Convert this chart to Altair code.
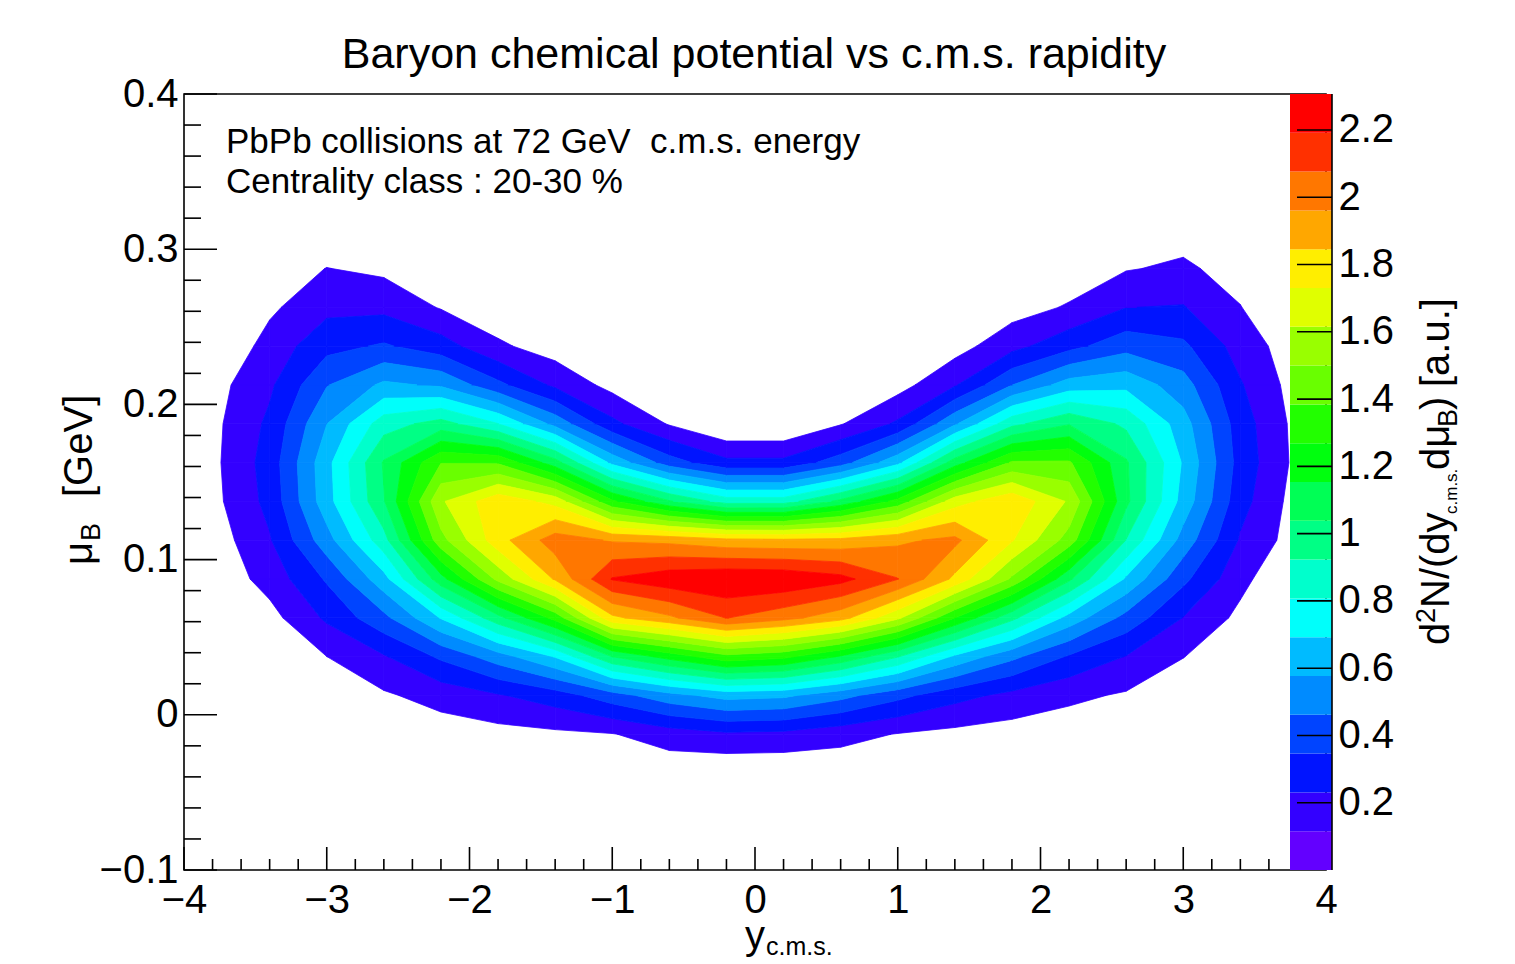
import altair as alt
import pandas as pd

alt.data_transformers.disable_max_rows()

W, H = 1142, 776
FONT = "Liberation Sans"
Z_MAX = 2.307

# bin centres of the 2D histogram
x_centers = [-3.8, -3.4, -3.0, -2.6, -2.2, -1.8, -1.4, -1.0, -0.6, -0.2,
             0.2, 0.6, 1.0, 1.4, 1.8, 2.2, 2.6, 3.0, 3.4, 3.8]
y_centers = [-0.0875, -0.0625, -0.0375, -0.0125, 0.0125, 0.0375, 0.0625, 0.0875,
             0.1125, 0.1375, 0.1625, 0.1875, 0.2125, 0.2375, 0.2625, 0.2875,
             0.3125, 0.3375, 0.3625, 0.3875]

# bin contents, one row per mu_B bin (values along y_cms)
z00 = [0] * 20
z01 = [0] * 20
z02 = [0, 0, 0, 0, 0.017, 0.02, 0.022, 0.02, 0.04, 0.02, 0.02, 0.035, 0.024, 0.02, 0.016, 0.014, 0, 0, 0, 0]
z03 = [0, 0, 0.01, 0.04, 0.057, 0.076, 0.092, 0.11, 0.17, 0.21, 0.2, 0.156, 0.11, 0.083, 0.064, 0.05, 0.04, 0.02, 0, 0]
z04 = [0, 0.02, 0.04, 0.10, 0.159, 0.22, 0.29, 0.41, 0.536, 0.62, 0.6, 0.50, 0.38, 0.27, 0.198, 0.14, 0.102, 0.052, 0.02, 0]
z05 = [0, 0.04, 0.115, 0.22, 0.366, 0.524, 0.70, 1.04, 1.2, 1.35, 1.3, 1.14, 0.93, 0.67, 0.49, 0.333, 0.226, 0.118, 0.044, 0]
z06 = [0.01, 0.075, 0.25, 0.43, 0.70, 1.0, 1.31, 1.82, 1.94, 2.08, 2.0, 1.89, 1.64, 1.27, 0.956, 0.65, 0.423, 0.227, 0.087, 0]
z07 = [0.03, 0.16, 0.36, 0.65, 1.11, 1.53, 1.86, 2.2, 2.27, 2.30, 2.29, 2.23, 2.08, 1.82, 1.48, 1.06, 0.675, 0.374, 0.148, 0]
z08 = [0.05, 0.22, 0.53, 0.88, 1.46, 1.8, 2.02, 1.95, 1.93, 1.88, 1.87, 1.88, 1.94, 1.99, 1.74, 1.45, 0.919, 0.531, 0.217, 0.058]
z09 = [0.08, 0.265, 0.645, 1.03, 1.6, 1.81, 1.69, 1.29, 1.05, 0.87, 0.87, 1.07, 1.31, 1.68, 1.82, 1.6, 1.065, 0.647, 0.274, 0.063]
z10 = [0.087, 0.28, 0.655, 1.05, 1.38, 1.37, 1.09, 0.66, 0.40, 0.26, 0.26, 0.41, 0.66, 1.10, 1.40, 1.40, 1.053, 0.679, 0.3, 0.083]
z11 = [0.084, 0.255, 0.575, 0.87, 0.97, 0.81, 0.54, 0.26, 0.105, 0.0, 0.0, 0.107, 0.25, 0.56, 0.89, 1.03, 0.898, 0.625, 0.286, 0.078]
z12 = [0.07, 0.21, 0.455, 0.6, 0.56, 0.376, 0.207, 0.078, 0.02, 0, 0, 0.02, 0.07, 0.22, 0.46, 0.63, 0.66, 0.511, 0.241, 0.062]
z13 = [0, 0.16, 0.31, 0.36, 0.283, 0.135, 0.06, 0.015, 0, 0, 0, 0, 0.01, 0.068, 0.193, 0.31, 0.419, 0.37, 0.18, 0.048]
z14 = [0, 0.094, 0.2, 0.2, 0.107, 0.038, 0.01, 0, 0, 0, 0, 0, 0, 0.01, 0.065, 0.127, 0.229, 0.238, 0.119, 0]
z15 = [0, 0.05, 0.118, 0.09, 0.033, 0, 0, 0, 0, 0, 0, 0, 0, 0, 0.01, 0.043, 0.108, 0.135, 0.07, 0]
z16 = [0, 0.02, 0.03, 0.02, 0, 0, 0, 0, 0, 0, 0, 0, 0, 0, 0, 0, 0.044, 0.068, 0.036, 0]
z17 = [0, 0, 0, 0, 0, 0, 0, 0, 0, 0, 0, 0, 0, 0, 0, 0, 0, 0.02, 0, 0]
z18 = [0] * 20
z19 = [0] * 20
Z = [z00, z01, z02, z03, z04, z05, z06, z07, z08, z09,
     z10, z11, z12, z13, z14, z15, z16, z17, z18, z19]

# ROOT "pretty" palette colours of the 20 contour bands
band_colors = ["#6300ff", "#3300ff", "#0014ff", "#0044ff", "#008bff", "#00bbff",
               "#00fffb", "#00ffcc", "#00ff85", "#00ff55", "#00ff0e", "#22ff00",
               "#69ff00", "#99ff00", "#e0ff00", "#ffee00", "#ffa700", "#ff7700",
               "#ff3000", "#ff0000"]
N_LEV = 20
levels = [k * Z_MAX / N_LEV for k in range(N_LEV + 1)]

# axis decorations
x_major = [-4, -3, -2, -1, 0, 1, 2, 3, 4]
x_minor = [-3.8, -3.6, -3.4, -3.2, -2.8, -2.6, -2.4, -2.2, -1.8, -1.6, -1.4, -1.2,
           -0.8, -0.6, -0.4, -0.2, 0.2, 0.4, 0.6, 0.8, 1.2, 1.4, 1.6, 1.8,
           2.2, 2.4, 2.6, 2.8, 3.2, 3.4, 3.6, 3.8]
y_major = [-0.1, 0.0, 0.1, 0.2, 0.3, 0.4]
y_minor = [-0.08, -0.06, -0.04, -0.02, 0.02, 0.04, 0.06, 0.08, 0.12, 0.14, 0.16, 0.18,
           0.22, 0.24, 0.26, 0.28, 0.32, 0.34, 0.36, 0.38]
cbar_ticks = [0.2, 0.4, 0.6, 0.8, 1.0, 1.2, 1.4, 1.6, 1.8, 2.0, 2.2]


# ---- filled contours (linear interpolation inside each bin cell, as ROOT CONT4) ----
def clip(poly, lev, keep_above):
    out = []
    n = len(poly)
    for a_i in range(n):
        a = poly[a_i]
        b = poly[(a_i + 1) % n]
        ina = a[2] >= lev if keep_above else a[2] < lev
        inb = b[2] >= lev if keep_above else b[2] < lev
        if ina:
            out.append(a)
        if ina != inb:
            t = (lev - a[2]) / (b[2] - a[2])
            out.append((a[0] + t * (b[0] - a[0]), a[1] + t * (b[1] - a[1]), lev))
    return out


recs = []
pid = 0
for j in range(len(y_centers) - 1):
    for i in range(len(x_centers) - 1):
        quad = [(x_centers[i], y_centers[j], Z[j][i]),
                (x_centers[i + 1], y_centers[j], Z[j][i + 1]),
                (x_centers[i + 1], y_centers[j + 1], Z[j + 1][i + 1]),
                (x_centers[i], y_centers[j + 1], Z[j + 1][i])]
        zs = [p[2] for p in quad]
        for k in range(1, N_LEV):
            lo = levels[k]
            if max(zs) < lo:
                break
            if k < N_LEV - 1 and min(zs) >= levels[k + 1]:
                continue
            poly = clip(quad, lo, True)
            if k < N_LEV - 1 and len(poly) >= 3:
                poly = clip(poly, levels[k + 1], False)
            if len(poly) < 3:
                continue
            for n_v, p in enumerate(poly + [poly[0]]):
                recs.append({"pid": pid, "k": k, "o": n_v,
                             "x": round(p[0], 5), "y": round(p[1], 5)})
            pid += 1

poly_df = pd.DataFrame(recs)

xscale = alt.Scale(domain=[-4, 4], nice=False, zero=False)
yscale = alt.Scale(domain=[-0.1, 0.4], nice=False, zero=False)
cscale = alt.Scale(domain=list(range(N_LEV)), range=band_colors)
cscale_y = alt.Scale(domain=[0, Z_MAX], nice=False, zero=False)

label_props = dict(ticks=False, tickSize=0, domain=False, grid=False, labelFont=FONT,
                   labelFontSize=40, labelColor="black", labelFlush=False,
                   labelOverlap=False, title=None)
xaxis = alt.Axis(values=x_major, format="d", labelPadding=10, **label_props)
yaxis = alt.Axis(values=y_major, format="~g", labelPadding=6, **label_props)
cbaxis = alt.Axis(orient="right", values=cbar_ticks, format="~g", labelPadding=12, **label_props)

contours = alt.Chart(poly_df).mark_line(strokeWidth=0.8, strokeJoin="round").encode(
    x=alt.X("x:Q", scale=xscale, axis=xaxis),
    y=alt.Y("y:Q", scale=yscale, axis=yaxis),
    detail="pid:N",
    order="o:Q",
    fill=alt.Fill("k:O", scale=cscale, legend=None),
    stroke=alt.Stroke("k:O", scale=cscale, legend=None),
)


def xticks(vals, length):
    return alt.Chart(pd.DataFrame({"v": vals})).mark_rule(color="black", strokeWidth=1.6).encode(
        x=alt.X("v:Q", scale=xscale, axis=xaxis), y=alt.value(H), y2=alt.value(H - length))


def yticks(vals, length):
    return alt.Chart(pd.DataFrame({"v": vals})).mark_rule(color="black", strokeWidth=1.6).encode(
        y=alt.Y("v:Q", scale=yscale, axis=yaxis), x=alt.value(0), x2=alt.value(length))


def label(text, x, y, size, angle=0, align="left"):
    return alt.Chart(pd.DataFrame({"t": [text]})).mark_text(
        font=FONT, fontSize=size, align=align, baseline="alphabetic", angle=angle, color="black"
    ).encode(x=alt.value(x), y=alt.value(y), text="t:N")


NB = "\u00a0"
texts = [
    label("Baryon chemical potential vs c.m.s. rapidity", 570, -26, 43, align="center"),
    label("PbPb collisions at 72 GeV" + NB + " c.m.s. energy", 42, 59, 35),
    label("Centrality class : 20-30 %", 42, 99, 35),
    # x axis title  y_{c.m.s.}
    label("y", 561, 855, 40),
    label("c.m.s.", 582, 861, 25),
    # y axis title  mu_B  [GeV]
    label("\u03bc", -92, 471, 40, angle=270),
    label("B", -84, 447, 27, angle=270),
    label("[GeV]", -92, 403, 40, angle=270),
    # colour bar title  d2N/(dy_{c.m.s.} dmu_B)  [a.u.]
    label("d", 1265, 551, 40, angle=270),
    label("2", 1251, 529, 27, angle=270),
    label("N/(dy", 1265, 514, 40, angle=270),
    label("c.m.s.", 1273, 420, 17, angle=270),
    label("d\u03bc", 1265, 376, 40, angle=270),
    label("B", 1273, 333, 27, angle=270),
    label(")", 1265, 316, 40, angle=270),
    label("[a.u.]", 1265, 293, 40, angle=270),
]

main = alt.layer(contours, xticks(x_major, 23), xticks(x_minor, 11),
                 yticks(y_major, 33), yticks(y_minor, 17), *texts)

# ---- colour bar ----
cb_df = pd.DataFrame({"k": list(range(N_LEV)), "lo": levels[:-1], "hi": levels[1:]})
cb_rect = alt.Chart(cb_df).mark_rect().encode(
    x=alt.value(W - 36), x2=alt.value(W + 6),
    y=alt.Y("lo:Q", scale=cscale_y, axis=cbaxis),
    y2="hi:Q",
    fill=alt.Fill("k:O", scale=cscale, legend=None),
)
cb_tick = alt.Chart(pd.DataFrame({"v": cbar_ticks})).mark_rule(color="black", strokeWidth=1.6).encode(
    y=alt.Y("v:Q", scale=cscale_y, axis=cbaxis), x=alt.value(W - 29), x2=alt.value(W + 6))
cb_edge = alt.Chart(pd.DataFrame({"a": [0]})).mark_rule(color="black", strokeWidth=1.6).encode(
    x=alt.value(W + 6), y=alt.value(0), y2=alt.value(H))
cbar = alt.layer(cb_rect, cb_tick, cb_edge)

chart = alt.layer(main, cbar).resolve_scale(y="independent").properties(
    width=W, height=H,
    autosize=alt.AutoSizeParams(type="none"),
    padding={"left": 184, "top": 94, "right": 189, "bottom": 94},
    background="white",
).configure_view(stroke="black", strokeWidth=1.6)

chart.save("out.html", embed_options={"renderer": "svg", "actions": False})
